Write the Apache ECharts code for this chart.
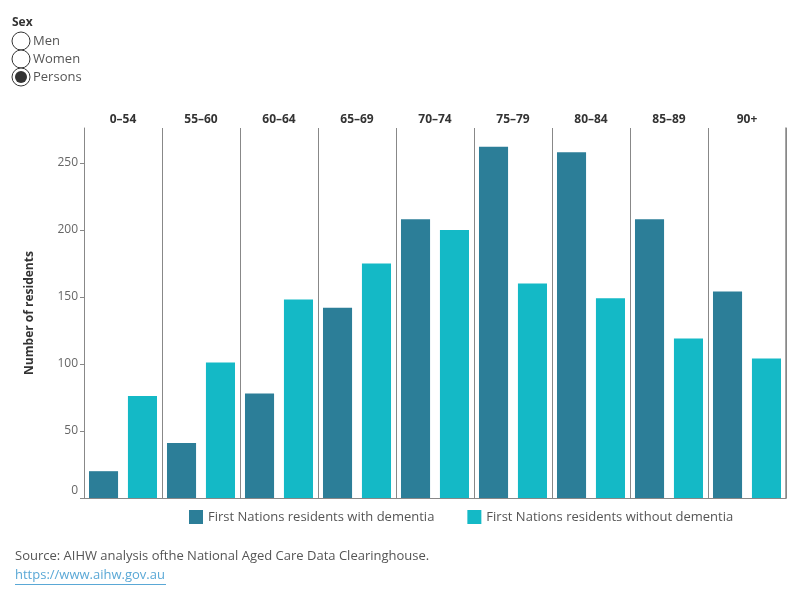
<!DOCTYPE html>
<html>
<head>
<meta charset="utf-8">
<script src="https://cdn.jsdelivr.net/npm/echarts@6/dist/echarts.min.js"></script>
<style>html,body{margin:0;padding:0;background:#fff;}#chart{width:800px;height:600px;}</style>
</head>
<body>
<div id="chart"></div>
<script>
const ageGroups = ['0–54','55–60','60–64','65–69','70–74','75–79','80–84','85–89','90+'];
const withDementia = [20, 41, 78, 142, 208, 262, 258, 208, 154];
const withoutDementia = [76, 101, 148, 175, 200, 160, 149, 119, 104];
const yTicks = [0, 50, 100, 150, 200, 250];
const seriesNames = ['First Nations residents with dementia', 'First Nations residents without dementia'];
const sexOptions = ['Men', 'Women', 'Persons'];
const selectedSex = 'Persons';

const FONT = '"Open Sans", sans-serif';
const chart = echarts.init(document.getElementById('chart'), null, {renderer: 'canvas'});

const radioGraphics = [];
sexOptions.forEach((s, i) => {
  const cy = 41 + i * 18;
  radioGraphics.push({type: 'circle', shape: {cx: 21, cy: cy, r: 9}, style: {fill: '#fff', stroke: '#333', lineWidth: 1}, z: 10 + i});
  if (s === selectedSex) {
    radioGraphics.push({type: 'circle', shape: {cx: 21, cy: cy, r: 6}, style: {fill: '#333'}, z: 20});
  }
  radioGraphics.push({type: 'text', left: 33, top: cy - 6, style: {text: s, fill: '#555', font: '13px ' + FONT}, z: 20});
});

chart.setOption({
  animation: false,
  textStyle: {fontFamily: FONT},
  grid: {left: 84, right: 14, top: 128, bottom: 102, containLabel: false},
  legend: {
    left: 189, top: 510, padding: 0, itemWidth: 14, itemHeight: 14, icon: 'rect', itemGap: 33,
    textStyle: {color: '#555', fontSize: 13, fontFamily: FONT},
    data: seriesNames
  },
  xAxis: [{
    type: 'category', data: ageGroups, position: 'bottom',
    axisLine: {show: true, lineStyle: {color: '#888', width: 1}},
    axisTick: {show: false}, axisLabel: {show: false},
    splitLine: {show: true, interval: 0, showMinLine: true, showMaxLine: true, lineStyle: {color: '#888', width: 1}}
  }, {
    type: 'category', data: ageGroups, position: 'top',
    axisLine: {show: false}, axisTick: {show: false},
    axisLabel: {show: true, interval: 0, color: '#333', fontWeight: 'bold', fontSize: 12, margin: 2}
  }],
  yAxis: [{
    type: 'value', min: 0, max: 276, interval: 50,
    name: 'Number of residents', nameLocation: 'middle', nameGap: 48,
    nameTextStyle: {color: '#333', fontWeight: 'bold', fontSize: 12},
    axisLine: {show: true, lineStyle: {color: '#888'}},
    axisTick: {show: true, length: 4, lineStyle: {color: '#888'}, customValues: yTicks},
    axisLabel: {
      color: '#666', fontSize: 12, margin: 6, customValues: yTicks,
      formatter: v => v === 0 ? '{z|0}' : String(v),
      rich: {z: {color: '#666', fontSize: 12, padding: [0, 0, 14, 0]}}
    },
    splitLine: {show: false}
  }, {
    type: 'value', min: 0, max: 276, position: 'right', offset: 0,
    axisLine: {show: true, onZero: false, lineStyle: {color: '#888', width: 1.5}},
    axisTick: {show: false}, axisLabel: {show: false}, splitLine: {show: false}, z: 5
  }],
  series: [{
    name: seriesNames[0], type: 'bar', data: withDementia, xAxisIndex: 0, yAxisIndex: 0,
    itemStyle: {color: '#2C7E98'}, barGap: '34%', barCategoryGap: '12.8%'
  }, {
    name: seriesNames[1], type: 'bar', data: withoutDementia, xAxisIndex: 0, yAxisIndex: 0,
    itemStyle: {color: '#14B9C6'}, barGap: '34%', barCategoryGap: '12.8%'
  }],
  graphic: [
    {type: 'text', left: 12, top: 17, style: {text: 'Sex', fill: '#333', font: 'bold 12px ' + FONT}},
    ...radioGraphics,
    {type: 'text', left: 15, top: 550, style: {text: 'Source: AIHW analysis ofthe National Aged Care Data Clearinghouse.', fill: '#555', font: '13px ' + FONT}},
    {type: 'text', left: 15, top: 569, style: {text: 'https://www.aihw.gov.au', fill: '#5AA8D6', font: '13px ' + FONT}},
    {type: 'line', shape: {x1: 15, y1: 584.5, x2: 166, y2: 584.5}, style: {stroke: '#5AA8D6', lineWidth: 1}}
  ]
});
</script>
</body>
</html>
